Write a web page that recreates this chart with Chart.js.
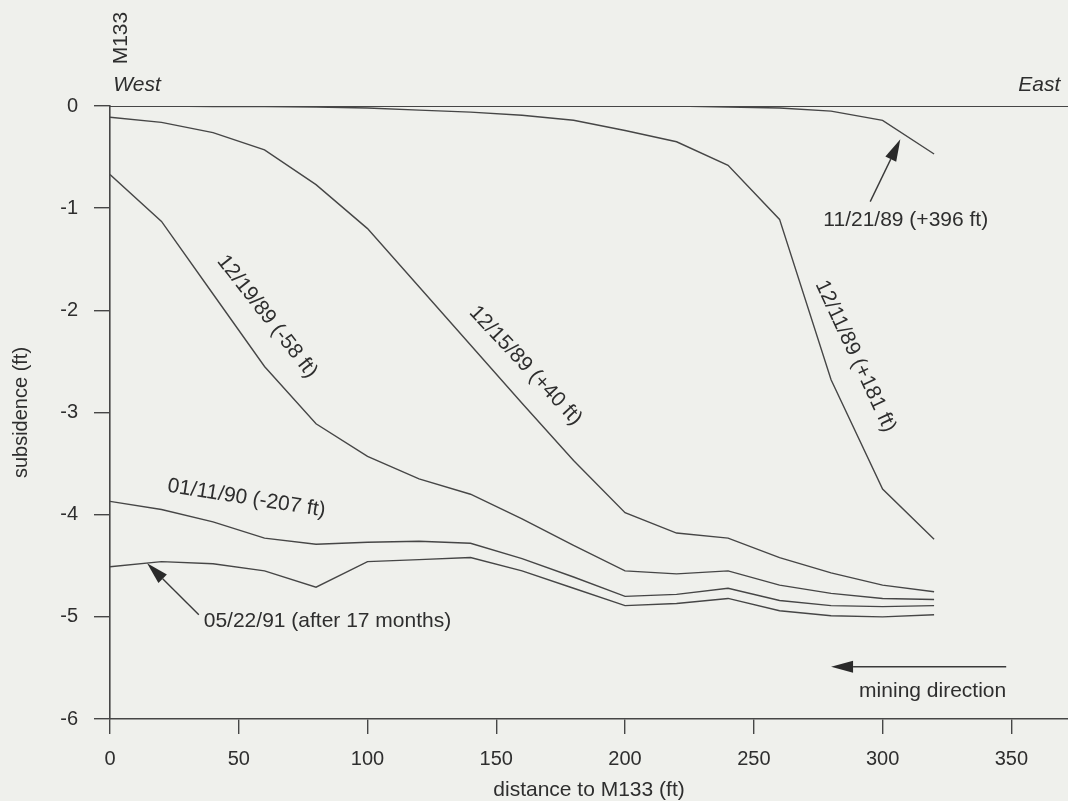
<!DOCTYPE html>
<html>
<head>
<meta charset="utf-8">
<script src="https://cdn.jsdelivr.net/npm/chart.js@4.4.1/dist/chart.umd.min.js"></script>
<style>
  body { margin: 0; background: #eff0ec; }
  #wrap { width: 1068px; height: 801px; }
</style>
</head>
<body>
<div id="wrap"><canvas id="profile"></canvas></div>
<script>
// distance to M133 (ft), one survey point every 20 ft
const distance = [0, 20, 40, 60, 80, 100, 120, 140, 160, 180, 200, 220, 240, 260, 280, 300, 320];

// subsidence (ft) per survey
const s112189 = [0, 0, 0, 0, 0, 0, 0, 0, 0, 0, 0, 0, -0.01, -0.02, -0.05, -0.14, -0.47];
const s121189 = [0, 0, -0.005, -0.005, -0.01, -0.02, -0.04, -0.06, -0.09, -0.14, -0.24, -0.35, -0.58, -1.11, -2.68, -3.75, -4.24];
const s121589 = [-0.11, -0.16, -0.26, -0.43, -0.77, -1.2, -1.77, -2.34, -2.91, -3.47, -3.98, -4.18, -4.23, -4.42, -4.57, -4.69, -4.755];
const s121989 = [-0.67, -1.13, -1.84, -2.55, -3.11, -3.43, -3.65, -3.8, -4.04, -4.3, -4.55, -4.58, -4.55, -4.69, -4.77, -4.82, -4.83];
const s011190 = [-3.87, -3.95, -4.07, -4.23, -4.29, -4.27, -4.26, -4.28, -4.43, -4.61, -4.8, -4.78, -4.72, -4.84, -4.89, -4.9, -4.89];
const s052291 = [-4.51, -4.46, -4.48, -4.55, -4.71, -4.46, -4.44, -4.42, -4.55, -4.72, -4.89, -4.87, -4.82, -4.94, -4.99, -5.0, -4.98];

const X_MAX = 372;
const baselineX = [0, X_MAX];
const baseline = [0, 0];

const xTicks = [0, 50, 100, 150, 200, 250, 300, 350];
const yTicks = [0, -1, -2, -3, -4, -5, -6];

const INK = "#464646";
const TEXT = "#2e2e2e";
const FONT = "'Liberation Sans', Arial, Helvetica, sans-serif";

function pts(xs, ys){
    return xs.map((x, i) => ({x: x, y: ys[i]}));
}

function lineSet(label, ys){
    return {
        label: label,
        data: pts(distance, ys),
        borderColor: INK,
        borderWidth: 1.4,
        pointRadius: 0,
        tension: 0,
        fill: false
    };
}

// annotation text, placed in data units
const notes = [
    {text: "M133", x: 4.5, y: 0.665, angle: -90, align: "center"},
    {text: "West", x: 1.3, y: 0.205, angle: 0, align: "left", italic: true},
    {text: "East", x: 369, y: 0.205, angle: 0, align: "right", italic: true},
    {text: "11/21/89 (+396 ft)", x: 277, y: -1.115, angle: 0, align: "left"},
    {text: "12/11/89 (+181 ft)", x: 289.4, y: -2.45, angle: 65, align: "center"},
    {text: "12/15/89 (+40 ft)", x: 161.3, y: -2.54, angle: 47, align: "center"},
    {text: "12/19/89 (-58 ft)", x: 61, y: -2.06, angle: 52, align: "center"},
    {text: "01/11/90 (-207 ft)", x: 53, y: -3.84, angle: 9, align: "center"},
    {text: "05/22/91 (after 17 months)", x: 36.4, y: -5.045, angle: 0, align: "left"},
    {text: "mining direction", x: 348, y: -5.73, angle: 0, align: "right"}
];

const arrows = [
    {from: [295.2, -0.936], to: [306.9, -0.326]},
    {from: [34.5, -4.98], to: [14.4, -4.475]},
    {from: [348, -5.489], to: [280, -5.489]}
];

const notesPlugin = {
    id: "notes",
    afterDatasetsDraw(chart){
        const ctx = chart.ctx;
        const xs = chart.scales.x;
        const ys = chart.scales.y;
        ctx.save();
        ctx.fillStyle = TEXT;
        ctx.textBaseline = "middle";
        notes.forEach(n => {
            ctx.save();
            ctx.translate(xs.getPixelForValue(n.x), ys.getPixelForValue(n.y));
            ctx.rotate(n.angle * Math.PI / 180);
            ctx.font = (n.italic ? "italic " : "") + "21px " + FONT;
            ctx.textAlign = n.align;
            ctx.fillText(n.text, 0, 0);
            ctx.restore();
        });

        ctx.strokeStyle = "#3a3a3a";
        ctx.fillStyle = "#2a2a2a";
        ctx.lineWidth = 1.4;
        arrows.forEach(a => {
            const x1 = xs.getPixelForValue(a.from[0]);
            const y1 = ys.getPixelForValue(a.from[1]);
            const x2 = xs.getPixelForValue(a.to[0]);
            const y2 = ys.getPixelForValue(a.to[1]);
            const ang = Math.atan2(y2 - y1, x2 - x1);
            const len = 22, half = 6;
            const bx = x2 - len * Math.cos(ang);
            const by = y2 - len * Math.sin(ang);
            ctx.beginPath();
            ctx.moveTo(x1, y1);
            ctx.lineTo(bx, by);
            ctx.stroke();
            ctx.beginPath();
            ctx.moveTo(x2, y2);
            ctx.lineTo(bx + half * Math.sin(ang), by - half * Math.cos(ang));
            ctx.lineTo(bx - half * Math.sin(ang), by + half * Math.cos(ang));
            ctx.closePath();
            ctx.fill();
        });
        ctx.restore();
    }
};

const ctx = document.getElementById("profile").getContext("2d");

new Chart(ctx, {
    type: "line",
    data: {
        datasets: [
            {
                label: "baseline",
                data: pts(baselineX, baseline),
                borderColor: INK,
                borderWidth: 2,
                pointRadius: 0,
                fill: false
            },
            lineSet("11/21/89", s112189),
            lineSet("12/11/89", s121189),
            lineSet("12/15/89", s121589),
            lineSet("12/19/89", s121989),
            lineSet("01/11/90", s011190),
            lineSet("05/22/91", s052291)
        ]
    },
    options: {
        responsive: true,
        maintainAspectRatio: false,
        animation: false,
        layout: {padding: {top: 106, right: 0, bottom: 0, left: 0}},
        plugins: {
            legend: {display: false},
            tooltip: {enabled: false}
        },
        scales: {
            x: {
                type: "linear",
                min: 0,
                max: X_MAX,
                afterFit(scale){ scale.height = 82; },
                afterBuildTicks(scale){ scale.ticks = xTicks.map(v => ({value: v})); },
                ticks: {
                    color: TEXT,
                    font: {family: FONT, size: 20},
                    padding: 13,
                    maxRotation: 0,
                    includeBounds: false
                },
                grid: {
                    drawOnChartArea: false,
                    drawTicks: true,
                    tickLength: 15,
                    color: INK,
                    lineWidth: 1.4
                },
                border: {display: true, color: INK, width: 1.6},
                title: {
                    display: true,
                    text: "distance to M133 (ft)",
                    color: TEXT,
                    font: {family: FONT, size: 21, lineHeight: 1.0},
                    padding: {top: 0, bottom: 0}
                }
            },
            y: {
                type: "linear",
                min: -6,
                max: 0,
                afterFit(scale){ scale.width = 110; },
                afterBuildTicks(scale){ scale.ticks = yTicks.map(v => ({value: v})); },
                ticks: {
                    color: TEXT,
                    font: {family: FONT, size: 20},
                    padding: 16
                },
                grid: {
                    drawOnChartArea: false,
                    drawTicks: true,
                    tickLength: 16,
                    color: INK,
                    lineWidth: 1.4
                },
                border: {display: true, color: INK, width: 1.6},
                title: {
                    display: true,
                    text: "subsidence (ft)",
                    color: TEXT,
                    font: {family: FONT, size: 20},
                    padding: {top: 9, bottom: 0}
                }
            }
        }
    },
    plugins: [notesPlugin]
});
</script>
</body>
</html>
